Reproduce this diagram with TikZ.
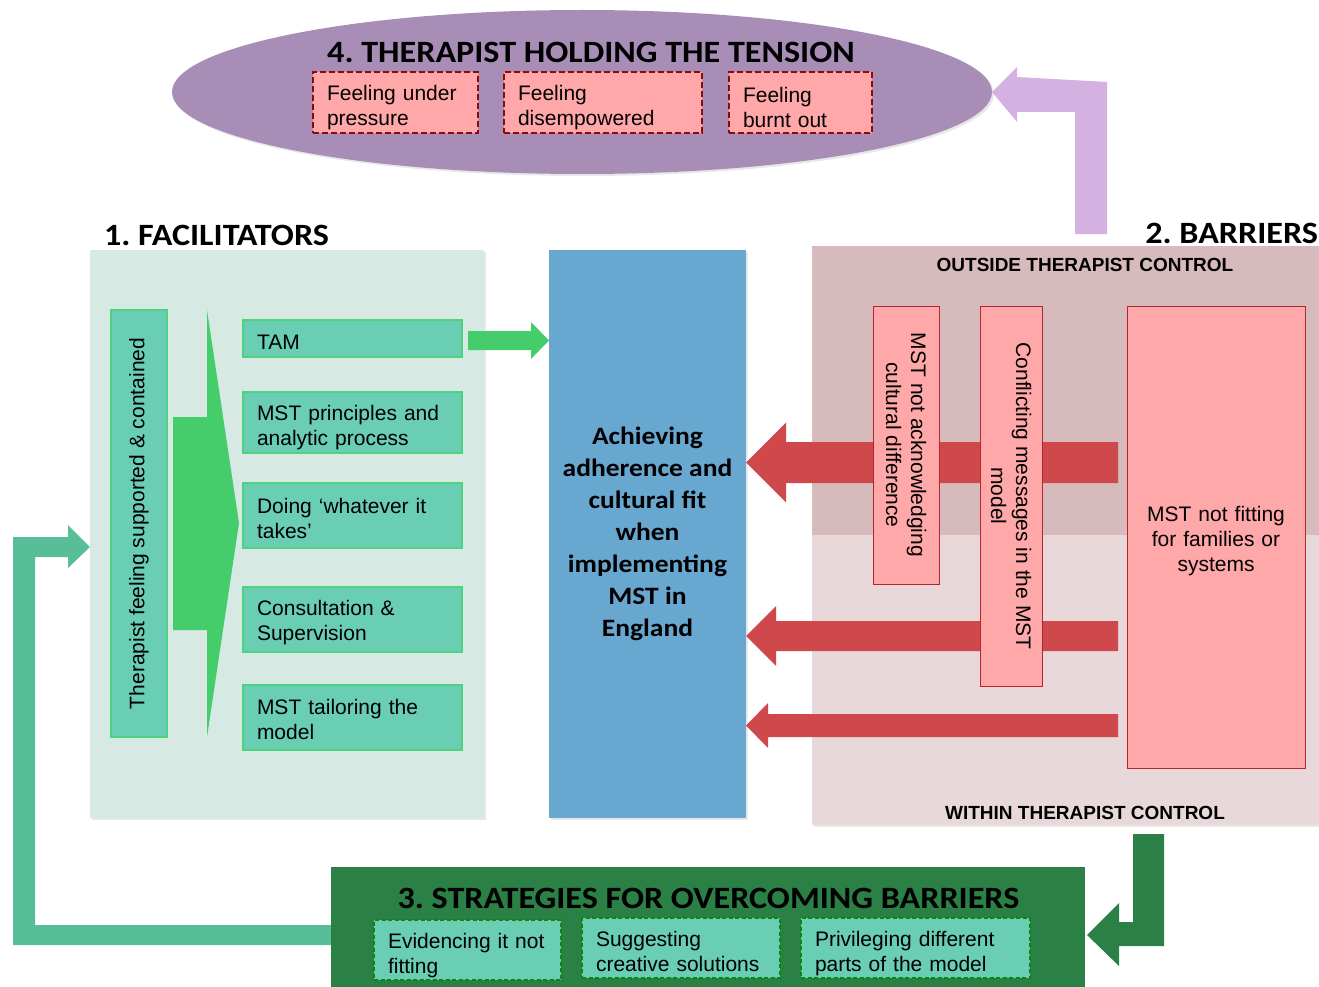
\documentclass[tikz,border=0pt]{standalone}
\usepackage{fontspec}
\setmainfont{Liberation Sans}
\newfontfamily\calib{Carlito}[FakeStretch=1.1]
\usetikzlibrary{shapes.geometric,shadows,calc}
\frenchspacing
\definecolor{purp}{HTML}{A88EB6}
\definecolor{pinkf}{HTML}{FFA7A9}
\definecolor{dkred}{HTML}{8B0A0A}
\definecolor{lilac}{HTML}{D4B1E1}
\definecolor{facbgc}{HTML}{D6E9E3}
\definecolor{tealf}{HTML}{6ACEB4}
\definecolor{tealb}{HTML}{4ED27F}
\definecolor{chev}{HTML}{45CC6B}
\definecolor{goalblue}{HTML}{68A7CF}
\definecolor{bartop}{HTML}{D6BABC}
\definecolor{barbot}{HTML}{E8D8D9}
\definecolor{rfill}{HTML}{FFA8AA}
\definecolor{rdraw}{HTML}{B5262C}
\definecolor{rarrow}{HTML}{CF484C}
\definecolor{dkgreen}{HTML}{2A8045}
\definecolor{sdash}{HTML}{0F870F}
\definecolor{fback}{HTML}{57BE97}
% block arrow: #1 style, #2 tip, #3 dir (1: body to the right, -1: body to the left),
% #4 head length, #5 head half height, #6 shaft half height, #7 total length
\newcommand\blockarrow[7]{%
  \fill[#1] (#2) -- ++({(#3)*(#4)},{-(#5)}) -- ++(0,{(#5)-(#6)}) -- ++({(#3)*((#7)-(#4))},0)
    -- ++(0,{2*(#6)}) -- ++({(0-(#3))*((#7)-(#4))},0) -- ++(0,{(#5)-(#6)}) -- cycle;}
\tikzset{
  title/.style={font=\calib\bfseries\fontsize{31}{37}\selectfont},
  body/.style={font=\fontsize{21}{25}\selectfont},
  soft/.style={drop shadow={opacity=0.18,shadow xshift=2pt,shadow yshift=-2pt}},
  pinkbox/.style={body, draw=dkred, dash pattern=on 6pt off 3pt, line width=2pt,
    fill=pinkf, text width=#1, inner xsep=14pt, align=left, minimum height=61pt, text height=26pt},
  tealbox/.style={body, draw=tealb, line width=1.2pt, fill=tealf, text width=191pt,
    inner xsep=14pt, align=left},
  vtealbox/.style={body, draw=tealb, line width=1.2pt, fill=tealf, align=center},
  rbox/.style={body, draw=rdraw, line width=1pt, fill=rfill, align=center},
  sbox/.style={body, draw=sdash, dash pattern=on 4pt off 2.5pt, line width=1.8pt,
    fill=tealf, text width=#1, inner xsep=14pt, align=left, minimum height=60pt},
  lbl/.style={font=\bfseries\fontsize{19}{23}\selectfont}
}
\begin{document}
\begin{tikzpicture}[x=1pt,y=-1pt,every node/.style={inner sep=0pt,outer sep=0pt}]
\useasboundingbox (0,0) rectangle (1319,987);

% ---------- 4. tension ----------
\node[ellipse, fill=purp, minimum width=820pt, minimum height=164pt, soft] (tension) at (582,92) {};
\node[title, anchor=base] (t4) at (591,63) {4. THERAPIST HOLDING THE TENSION};
\node[pinkbox=137pt] (pressure) at (395.5,102.5) {Feeling under\\pressure};
\node[pinkbox=170pt] (disemp) at (603,102.5) {Feeling\\disempowered};
\node[pinkbox=115pt] (burnt) at (800.5,102.5) {Feeling\\burnt out};

% ---------- 1. facilitators ----------
\node[fill=facbgc, minimum width=394pt, minimum height=568pt, soft] (facbg) at (287,534) {};
\node[title, anchor=base west] (t1) at (104,245) {1. FACILITATORS};
\node[vtealbox, rotate=90, minimum width=427pt, minimum height=56pt] (contained) at (139,523.5)
  {\raisebox{4pt}{Therapist feeling supported \& contained}};
\fill[chev] (207,310) -- (239,523) -- (207,737) -- (207,630) -- (173,630) -- (173,417) -- (207,417) -- cycle;
\node[tealbox, minimum height=37pt, text height=21.5pt] (tam) at (352.5,338.5) {TAM};
\node[tealbox, minimum height=61pt, text height=25pt] (princ) at (352.5,422.5) {MST principles and\\analytic process};
\node[tealbox, minimum height=65pt, text height=21.5pt] (doing) at (352.5,515.5) {Doing ‘whatever it\\takes’};
\node[tealbox, minimum height=65pt, text height=22pt] (consult) at (352.5,619.5) {Consultation \&\\Supervision};
\node[tealbox, minimum height=65pt, text height=19.5pt] (tailor) at (352.5,717.5) {MST tailoring the\\model};

% ---------- centre ----------
\node[fill=goalblue, minimum width=197pt, minimum height=568pt, align=center, soft,
  font=\calib\bfseries\fontsize{25}{32}\selectfont] (goal) at (647.5,534)
  {Achieving\\adherence and\\cultural fit\\when\\implementing\\MST in\\England};
\coordinate (tamtip) at (goal.west |- 0,340.5);
\blockarrow{chev}{tamtip}{-1}{18}{18.5}{9.5}{81}

% ---------- 2. barriers ----------
\node[fill=bartop, minimum width=507pt, minimum height=289pt, soft] (outside) at (1065.5,390.5) {};
\node[fill=barbot, minimum width=507pt, minimum height=290pt, soft] (within) at (1065.5,680) {};
\node[title, anchor=base east] (t2) at (1318,243) {2. BARRIERS};
\node[lbl] (outlbl) at (1085,265) {OUTSIDE THERAPIST CONTROL};
\node[lbl] (inlbl) at (1085,813) {WITHIN THERAPIST CONTROL};

\coordinate (r1) at (goal.east |- 0,462.5);
\coordinate (r2) at (goal.east |- 0,636);
\coordinate (r3) at (goal.east |- 0,725.5);
\blockarrow{rarrow}{r1}{1}{40}{40}{20.5}{372}
\blockarrow{rarrow}{r2}{1}{30}{30}{15}{372}
\blockarrow{rarrow}{r3}{1}{22}{22.5}{11.5}{372}

\node[rbox, rotate=-90, minimum width=278pt, minimum height=66pt] (cultural) at (906,445)
  {MST not acknowledging\\cultural difference};
\node[rbox, rotate=-90, minimum width=380pt, minimum height=62pt] (conflict) at (1011,496)
  {Conflicting messages in the MST\\model};
\node[rbox, minimum width=178pt, minimum height=462pt, text width=160pt, text height=22.5pt] (notfit) at (1216,537)
  {MST not fitting\\for families or\\systems};

% purple arrow barriers -> tension
\fill[lilac] (tension.east) -- ++(25,-25) -- ++(0,10) -- (1107,82) -- (1107,234)
  -- (1075,234) -- (1075,112) -- (1017,112) -- (1017,122) -- cycle;

% ---------- 3. strategies ----------
% feedback arrow strategies -> facilitators
\coordinate (fbtip) at (facbg.west |- 0,547);
\fill[fback] (fbtip) -- (68,525) -- (68,537) -- (13,537) -- (13,945) -- (332,945)
  -- (332,925) -- (35,925) -- (35,557) -- (68,557) -- (68,568) -- cycle;

\node[fill=dkgreen, minimum width=754pt, minimum height=125pt] (strat) at (708,929.5) {};
\node[title, anchor=base] (t3) at (708.5,908) {3. STRATEGIES FOR OVERCOMING BARRIERS};
\node[sbox=159pt, text height=26pt] (evid) at (467.5,950) {Evidencing it not\\fitting};
\node[sbox=170pt, text height=21.5pt] (creative) at (681,948) {Suggesting\\creative solutions};
\node[sbox=201pt, text height=25.5pt] (priv) at (915.5,948) {Privileging different\\parts of the model};

% dark green arrow barriers -> strategies
\coordinate (sgtip) at ([xshift=2pt]strat.east |- 0,935);
\fill[dkgreen] (sgtip) -- (1119,903) -- (1119,922) -- (1133,922) -- (1133,834) -- (1164,834)
  -- (1164,946) -- (1119,946) -- (1119,966) -- cycle;
\end{tikzpicture}
\end{document}
